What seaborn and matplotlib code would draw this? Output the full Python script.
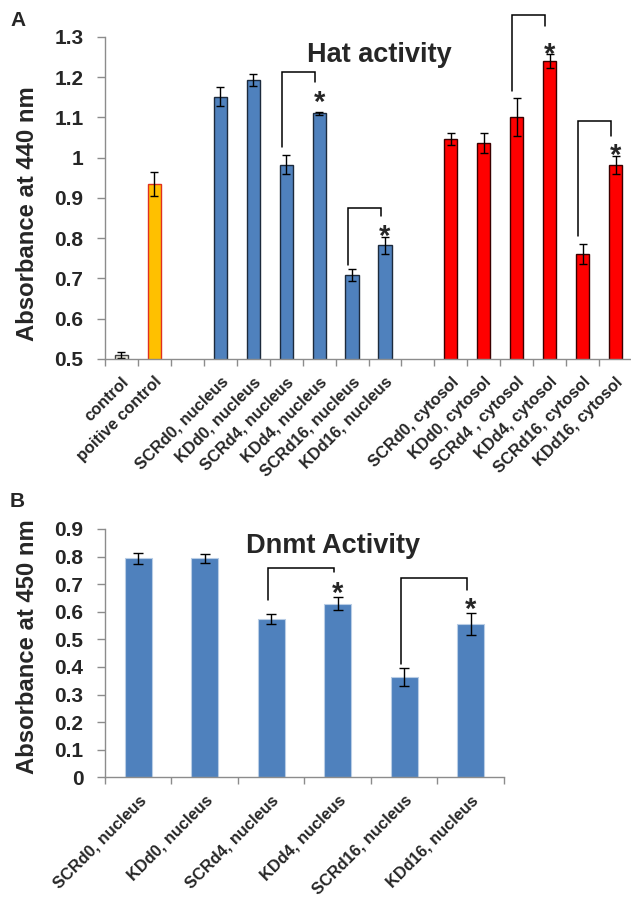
import matplotlib
matplotlib.use("Agg")
import matplotlib.pyplot as plt
import pandas as pd
import seaborn as sns

# ---- Panel A data: Hat activity ----
hat_labels = ["control", "poitive control", " ",
              "SCRd0, nucleus", "KDd0, nucleus", "SCRd4, nucleus", "KDd4, nucleus",
              "SCRd16, nucleus", "KDd16, nucleus", "  ",
              "SCRd0, cytosol", "KDd0, cytosol", "SCRd4 , cytosol", "KDd4, cytosol",
              "SCRd16, cytosol", "KDd16, cytosol"]
hat_values = [0.510, 0.935, None,
              1.152, 1.193, 0.983, 1.110, 0.708, 0.782, None,
              1.046, 1.036, 1.101, 1.240, 0.760, 0.981]
hat_errors = [0.008, 0.029, None,
              0.024, 0.016, 0.023, 0.004, 0.015, 0.022, None,
              0.015, 0.025, 0.047, 0.017, 0.025, 0.022]
hat_colors = ["#EEECE1", "#FFC000", "#FFFFFF"] + ["#4F81BD"] * 6 + ["#FFFFFF"] + ["#FF0000"] * 6
hat_edges = ["#404040", "#E03020", "#FFFFFF"] + ["#1C2A3C"] * 6 + ["#FFFFFF"] + ["#3A0000"] * 6

# brackets: (left bar, right bar, top, left foot, right foot, star y)
hat_brackets = [
    ("SCRd4, nucleus", "KDd4, nucleus", 1.214, 1.027, 1.189, 1.156),
    ("SCRd16, nucleus", "KDd16, nucleus", 0.874, 0.734, 0.855, 0.823),
    ("SCRd4 , cytosol", "KDd4, cytosol", 1.355, 1.166, 1.327, 1.276),
    ("SCRd16, cytosol", "KDd16, cytosol", 1.092, 0.806, 1.054, 1.025),
]

# ---- Panel B data: Dnmt activity ----
dnmt_labels = ["SCRd0, nucleus", "KDd0, nucleus", "SCRd4, nucleus",
               "KDd4, nucleus", "SCRd16, nucleus", "KDd16, nucleus"]
dnmt_values = [0.793, 0.793, 0.575, 0.629, 0.363, 0.556]
dnmt_errors = [0.019, 0.017, 0.018, 0.023, 0.032, 0.041]
dnmt_brackets = [
    ("SCRd4, nucleus", "KDd4, nucleus", 0.759, 0.642, 0.744, 0.692),
    ("SCRd16, nucleus", "KDd16, nucleus", 0.723, 0.410, 0.680, 0.636),
]

sns.set_theme(style="white")
plt.rcParams["font.family"] = ["Liberation Sans", "DejaVu Sans"]
plt.rcParams["font.weight"] = "bold"

TICK_FS = 15
LABEL_FS = 11.8
YLABEL_FS = 17.2
TITLE_FS = 19.5
STAR_FS = 21

fig = plt.figure(figsize=(6.31, 8.99), dpi=100)
ax_a = fig.add_axes([0.1664, 0.6007, 0.8352, 0.3582])
ax_b = fig.add_axes([0.1664, 0.1354, 0.6323, 0.2762])


def style_axis(ax, n, ylim, yticks, fmt):
    ax.set_xlim(-0.5, n - 0.5)
    ax.set_ylim(*ylim)
    ax.set_yticks(yticks)
    ax.set_yticklabels([fmt(t) for t in yticks], fontsize=TICK_FS, fontweight="bold")
    ax.set_xticks([i - 0.5 for i in range(n + 1)], minor=True)
    for side in ["top", "right"]:
        ax.spines[side].set_visible(False)
    for side in ["left", "bottom"]:
        ax.spines[side].set_color("#8C8C8C")
        ax.spines[side].set_linewidth(1.0)
    ax.tick_params(axis="y", which="major", left=True, length=5.5, width=1.0,
                   color="#8C8C8C", pad=10)
    ax.tick_params(axis="x", which="major", bottom=False, length=0, pad=11)
    ax.tick_params(axis="x", which="minor", bottom=True, length=5, width=1.0,
                   color="#8C8C8C")
    ax.set_xlabel("")
    ax.set_ylabel("")
    for lab in ax.get_xticklabels():
        lab.set_rotation(45)
        lab.set_ha("right")
        lab.set_va("top")
        lab.set_rotation_mode("anchor")
        lab.set_fontsize(LABEL_FS)
        lab.set_fontweight("bold")


def draw_brackets(ax, order, brackets, offset):
    for left, right, top, lfoot, rfoot, star in brackets:
        xl = order.index(left) - offset
        xr = order.index(right) - offset
        ax.plot([xl, xl, xr, xr], [lfoot, top, top, rfoot], color="black", lw=1.1,
                clip_on=False, solid_joinstyle="miter")
        ax.annotate("*", (order.index(right), star), xytext=(0, -0.55 * STAR_FS),
                    textcoords="offset points", ha="center", va="baseline",
                    fontsize=STAR_FS, fontweight="bold", annotation_clip=False)


# Panel A
df_a = pd.DataFrame({"label": hat_labels, "value": hat_values, "err": hat_errors})
df_a = df_a.dropna()
sns.barplot(data=df_a, x="label", y="value", hue="label", order=hat_labels,
            palette=dict(zip(hat_labels, hat_colors)), width=0.4, errorbar=None,
            saturation=1, legend=False, ax=ax_a)
edge_map = dict(zip(hat_labels, hat_edges))
for patch, lab in zip(ax_a.patches, df_a["label"]):
    patch.set_edgecolor(edge_map[lab])
    patch.set_linewidth(1.0)
pos_a = [hat_labels.index(l) for l in df_a["label"]]
ax_a.errorbar(pos_a, df_a["value"], yerr=df_a["err"], fmt="none", ecolor="black",
              elinewidth=1.0, capsize=3.2, capthick=1.0)
style_axis(ax_a, len(hat_labels), (0.5, 1.3), [0.5 + 0.1 * i for i in range(9)],
           lambda t: f"{t:.1f}" if abs(t - 1) > 1e-9 else "1")
draw_brackets(ax_a, hat_labels, hat_brackets, 0.13)
ax_a.text(7.83, 1.239, "Hat activity", ha="center", va="baseline", fontsize=TITLE_FS,
          fontweight="bold")

# Panel B
df_b = pd.DataFrame({"label": dnmt_labels, "value": dnmt_values, "err": dnmt_errors})
sns.barplot(data=df_b, x="label", y="value", color="#4F81BD", width=0.4,
            errorbar=None, saturation=1, ax=ax_b)
for patch in ax_b.patches:
    patch.set_edgecolor("#B9CDE5")
    patch.set_linewidth(0.8)
ax_b.errorbar(range(len(dnmt_labels)), dnmt_values, yerr=dnmt_errors, fmt="none",
              ecolor="black", elinewidth=1.0, capsize=3.3, capthick=1.0)
style_axis(ax_b, len(dnmt_labels), (0, 0.9), [0.1 * i for i in range(10)],
           lambda t: f"{t:.1f}" if t > 1e-9 else "0")
draw_brackets(ax_b, dnmt_labels, dnmt_brackets, 0.05)
ax_b.text(2.93, 0.814, "Dnmt Activity", ha="center", va="baseline", fontsize=TITLE_FS,
          fontweight="bold")

fig.text(0.0428, 0.762, "Absorbance at 440 nm", rotation=90, ha="center", va="center",
         fontsize=YLABEL_FS, fontweight="bold")
fig.text(0.0428, 0.281, "Absorbance at 450 nm", rotation=90, ha="center", va="center",
         fontsize=YLABEL_FS, fontweight="bold")
fig.text(0.016, 0.977, "A", fontsize=15, fontweight="bold", va="center")
fig.text(0.016, 0.442, "B", fontsize=15, fontweight="bold", va="center")

fig.savefig("out.png", dpi=100)
plt.close(fig)
